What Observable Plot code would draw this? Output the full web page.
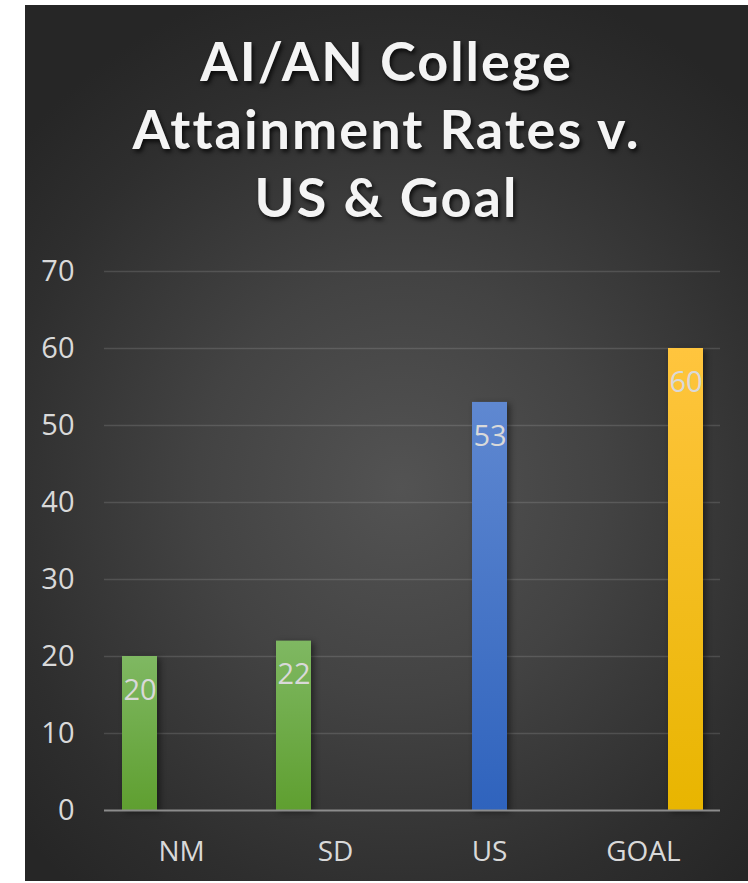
<!DOCTYPE html>
<html>
<head>
<meta charset="utf-8">
<script src="https://cdn.jsdelivr.net/npm/d3@7"></script>
<script src="https://cdn.jsdelivr.net/npm/@observablehq/plot@0.6"></script>
<style>
  html, body { margin: 0; padding: 0; background: #ffffff; }
  #panel {
    position: absolute; left: 25px; top: 5px; width: 723px; height: 876px;
    background: radial-gradient(ellipse 70% 60% at 52% 55%, #535353 0%, #434343 40%, #2e2e2e 80%, #262626 100%);
    overflow: hidden;
  }
  #title {
    height: 245px; box-sizing: border-box; padding-top: 22px;
    text-align: center; color: #f4f4f4;
    font-family: Lato, "Open Sans", sans-serif; font-weight: 700;
    font-size: 54px; line-height: 68px; letter-spacing: 2px;
    text-shadow: 2px 3px 4px rgba(0,0,0,0.75);
  }
  svg rect { filter: drop-shadow(3px 2px 3px rgba(0,0,0,0.45)); }
</style>
</head>
<body>
<div id="panel">
  <div id="title">AI/AN College<br>Attainment Rates v.<br>US &amp; Goal</div>
  <div id="chart"></div>
</div>
<script>
const categories = ["NM", "SD", "US", "GOAL"];
const seriesNames = ["AI/AN", "US", "Goal"];
const barSeries = ["AI/AN", "AI/AN", "US", "Goal"];
const values = [20, 22, 53, 60];
const yTicks = [0, 10, 20, 30, 40, 50, 60, 70];
const gradientStops = [
  ["#7fb862", "#5f9f30"],
  ["#5f88d1", "#2f63bd"],
  ["#ffc53e", "#e8b500"]
];

const data = categories.map((c, i) => ({category: c, series: barSeries[i], value: values[i]}));

const font = "'Open Sans', sans-serif";
const svg = Plot.plot({
  width: 723,
  height: 630,
  marginTop: 21,
  marginBottom: 70,
  marginLeft: 79,
  marginRight: 28,
  style: {background: "transparent", fontFamily: font, color: "#d9d9d9", overflow: "visible"},
  fx: {domain: categories, padding: 0, label: null},
  x: {domain: seriesNames, paddingInner: 1/6, paddingOuter: 5/12, axis: null},
  y: {domain: [0, 70], ticks: yTicks, label: null},
  color: {domain: seriesNames, range: seriesNames.map((s, i) => `url(#grad${i})`)},
  marks: [
    Plot.gridY(yTicks.filter(t => t > 0), {stroke: "#ffffff", strokeOpacity: 0.13, strokeWidth: 1.5}),
    Plot.axisY(yTicks, {tickSize: 0, tickPadding: 30, fontSize: 29, fill: "#d9d9d9", label: null}),
    Plot.axisFx({anchor: "bottom", tickSize: 0, tickPadding: 31, fontSize: 28, fill: "#d9d9d9", label: null}),
    Plot.barY(data, {fx: "category", x: "series", y: "value", fill: "series"}),
    Plot.ruleY([0], {stroke: "#8c8c8c", strokeWidth: 2}),
    Plot.text(data, {fx: "category", x: "series", y: "value", text: d => String(d.value), dy: 34, fontSize: 29, fill: "#d9d9d9"})
  ]
});

const ns = "http://www.w3.org/2000/svg";
const defs = document.createElementNS(ns, "defs");
gradientStops.forEach((stops, i) => {
  const g = document.createElementNS(ns, "linearGradient");
  g.setAttribute("id", `grad${i}`);
  g.setAttribute("x1", "0"); g.setAttribute("y1", "0");
  g.setAttribute("x2", "0"); g.setAttribute("y2", "1");
  stops.forEach((c, j) => {
    const s = document.createElementNS(ns, "stop");
    s.setAttribute("offset", j === 0 ? "0%" : "100%");
    s.setAttribute("stop-color", c);
    g.appendChild(s);
  });
  defs.appendChild(g);
});
svg.insertBefore(defs, svg.firstChild);
document.getElementById("chart").appendChild(svg);
</script>
</body>
</html>
